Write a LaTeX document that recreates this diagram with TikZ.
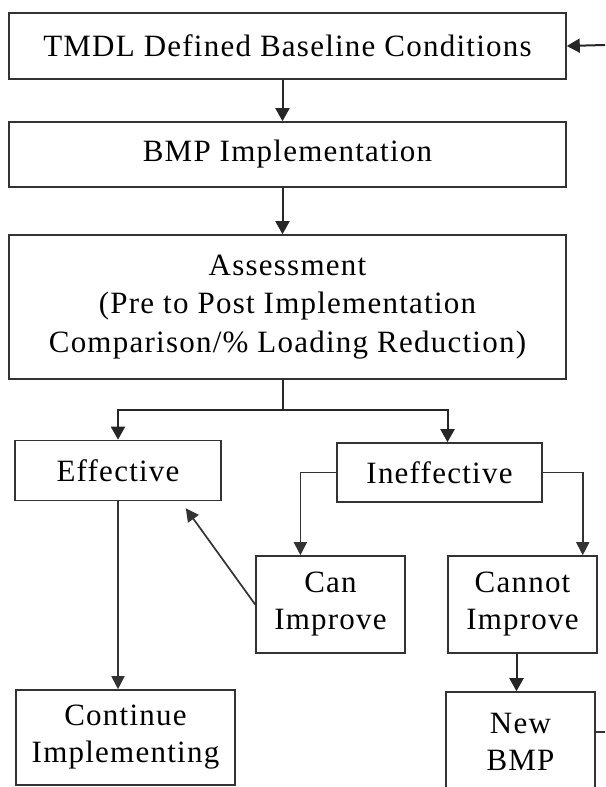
\documentclass[tikz,border=0pt]{standalone}
\usepackage{fontspec}
\setmainfont[LetterSpace=4]{Liberation Serif}
\usetikzlibrary{arrows.meta,calc}
\begin{document}
\begin{tikzpicture}[
    x=1pt, y=-1pt,
    box/.style={draw=black!80, line width=1.6pt, inner sep=0pt, align=center, font=\fontsize{31}{37}\selectfont},
    flow/.style={draw=black!85, line width=2pt, -{Triangle[width=14pt,length=13pt]}},
    sideflow/.style={draw=black!80, line width=1.7pt, -{Triangle[width=13pt,length=13pt]}},
    plainline/.style={draw=black!80, line width=1.4pt},
]
    \useasboundingbox (0,0) rectangle (605,787);
    % main column
    \node[box, minimum width=557pt, minimum height=66pt] (tmdl) at (287.5,46) {TMDL Defined Baseline Conditions};
    \node[box, minimum width=557pt, minimum height=65pt] (bmp) at (287.5,154.5) {BMP Implementation};
    \node[box, minimum width=557pt, minimum height=144pt, font=\fontsize{31}{38.5}\selectfont] (assess) at (287.5,307) {Assessment\\(Pre to Post Implementation\\Comparison/\% Loading Reduction)};
    % outcomes
    \node[box, minimum width=206pt, minimum height=60pt] (eff) at (118,470.5) {Effective};
    \node[box, minimum width=205pt, minimum height=59pt] (ineff) at (439.5,472.5) {Ineffective};
    \node[box, minimum width=149pt, minimum height=97pt] (canimp) at (330.5,604.5) {Can\\Improve};
    \node[box, minimum width=149pt, minimum height=97pt] (cannot) at (522.5,604.5) {Cannot\\Improve};
    \node[box, minimum width=219pt, minimum height=95pt] (cont) at (125.5,737.5) {Continue\\Implementing};
    \node[box, minimum width=149pt, minimum height=100pt] (newbmp) at (520.5,742) {New\\BMP};
    % loose ends at the page edge
    \coordinate (loopin) at (605,45);
    \coordinate (loopout) at (605,732);
    \coordinate (effin) at ($(eff.south east)+(-36,7)$);
    % connectors
    \draw[flow] (loopin) -- (tmdl.east);
    \draw[flow] ([xshift=-5pt]tmdl.south) -- ([xshift=-5pt]bmp.north);
    \draw[flow] ([xshift=-5pt]bmp.south) -- ([xshift=-5pt]assess.north);
    \draw[flow, -] ([xshift=-5pt]assess.south) -- ++(0,30) coordinate (fork);
    \draw[flow] (fork) -| (eff.north);
    \draw[flow] (fork) -| ([xshift=8pt]ineff.north);
    \draw[sideflow] (ineff.west) -| ($(canimp.north west)!0.3!(canimp.north east)$);
    \draw[sideflow] (ineff.east) -| ($(cannot.north west)!0.9!(cannot.north east)$);
    \draw[sideflow] (canimp.west) -- (effin);
    \draw[sideflow] (eff.south) -- (eff.south |- cont.north);
    \draw[flow] ([xshift=-6pt]cannot.south) -- ([xshift=-6pt]cannot.south |- newbmp.north);
    \draw[plainline] ([yshift=10pt]newbmp.east) -- (loopout);
\end{tikzpicture}
\end{document}
